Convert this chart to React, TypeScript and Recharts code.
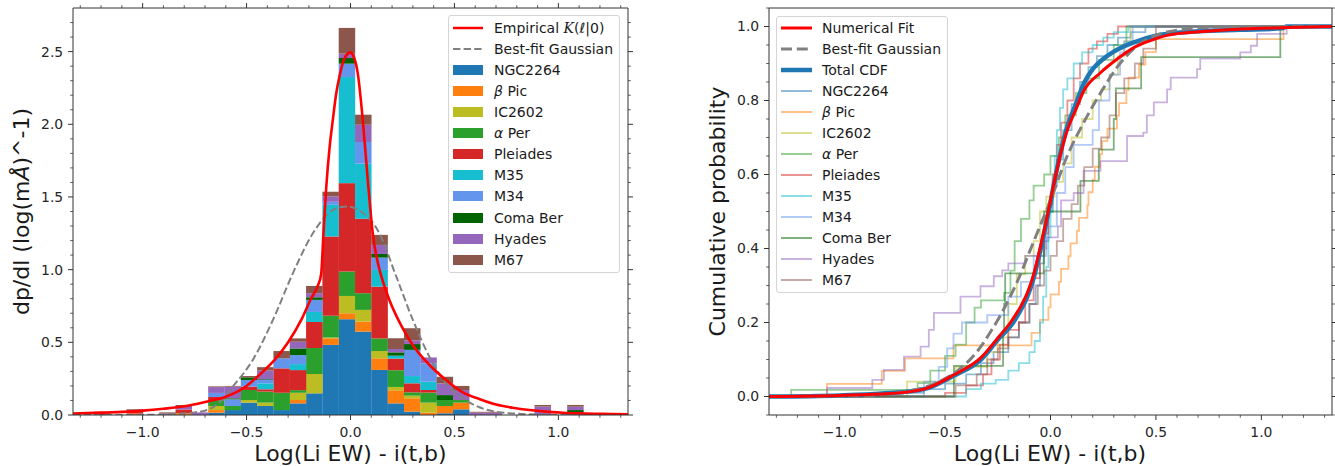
import React from 'react';
import { ComposedChart, Bar, Line, XAxis, YAxis, Legend } from 'recharts';

const FONT = '"DejaVu Sans", "Liberation Sans", sans-serif';
const X_DOMAIN: [number, number] = [-1.335, 1.335];
const AXIS_COLOR = '#333';

// ---- histogram (left panel) ----
// bin centres, bin width ~0.0785
const binCenters = [
  -1.2723, -1.1938, -1.1153, -1.0368, -0.9583, -0.8798, -0.8013, -0.7228, -0.6443, -0.5658, -0.4873,
  -0.4088, -0.3303, -0.2518, -0.1733, -0.0948, -0.0163, 0.0623, 0.1408, 0.2193, 0.2978, 0.3763,
  0.4548, 0.5333, 0.6118, 0.6903, 0.7688, 0.8473, 0.9258, 1.0043, 1.0828,
];

const ngc2264 = [0, 0, 0, 0, 0, 0, 0, 0, 0.016, 0.034, 0.085, 0.062, 0.034, 0.08, 0.149, 0.482, 0.659, 0.574, 0.31, 0.08, 0.023, 0, 0.012, 0.039, 0, 0, 0, 0, 0, 0, 0];
const betaPic = [0, 0, 0, 0.01, 0, 0, 0.012, 0, 0.018, 0, 0, 0, 0, 0.023, 0, 0.046, 0.041, 0.069, 0.08, 0.09, 0.092, 0.016, 0.05, 0.046, 0, 0, 0, 0, 0, 0, 0];
const ic2602 = [0, 0, 0, 0, 0, 0, 0, 0, 0.028, 0, 0.018, 0.023, 0, 0.05, 0.133, 0.005, 0.119, 0.08, 0.05, 0.023, 0.018, 0.069, 0, 0, 0, 0, 0, 0, 0, 0, 0];
const alphaPer = [0, 0, 0, 0, 0, 0, 0, 0, 0.04, 0.028, 0.069, 0.076, 0.119, 0.018, 0.179, 0.15, 0.168, 0.115, 0.087, 0.115, 0.023, 0.069, 0.041, 0.018, 0, 0, 0, 0, 0, 0, 0];
const pleiades = [0, 0.012, 0, 0.015, 0, 0, 0.025, 0, 0.022, 0, 0.023, 0.016, 0.168, 0.138, 0.179, 0.545, 0.608, 0.512, 0.356, 0.08, 0.062, 0.018, 0, 0, 0, 0, 0, 0, 0, 0, 0];
const m35 = [0, 0, 0, 0, 0, 0, 0, 0, 0, 0, 0, 0.041, 0, 0.041, 0.069, 0.218, 0.73, 0.379, 0.115, 0.02, 0.05, 0.057, 0, 0, 0, 0, 0, 0, 0, 0, 0];
const m34 = [0, 0, 0, 0, 0, 0, 0, 0, 0.028, 0.046, 0.046, 0.023, 0.069, 0.062, 0.083, 0.021, 0.092, 0.149, 0.085, 0, 0.18, 0.126, 0, 0, 0, 0, 0, 0, 0, 0, 0.018];
const comaBer = [0, 0, 0, 0, 0, 0, 0, 0, 0, 0.007, 0.018, 0.005, 0, 0.046, 0.018, 0, 0.039, 0, 0.025, 0.023, 0.04, 0, 0.034, 0, 0, 0, 0, 0, 0, 0, 0.016];
const hyades = [0, 0, 0, 0.012, 0, 0.01, 0.025, 0.018, 0.04, 0.08, 0, 0.06, 0, 0.046, 0.028, 0.037, 0.03, 0.119, 0.062, 0.023, 0.025, 0.041, 0.08, 0.069, 0.016, 0.016, 0, 0, 0.058, 0, 0.023];
const m67 = [0, 0.01, 0, 0.004, 0, 0.008, 0.007, 0, 0.005, 0.005, 0.009, 0.023, 0.05, 0.023, 0.05, 0.032, 0.177, 0.069, 0.069, 0.074, 0.084, 0, 0.046, 0.028, 0.006, 0.006, 0, 0, 0.011, 0, 0.012];

const empiricalPdf: [number, number][] = [
  [-1.335, 0.01], [-1.2, 0.016], [-1.0, 0.03], [-0.9, 0.043], [-0.8, 0.06], [-0.7, 0.09], [-0.6, 0.126],
  [-0.5, 0.2], [-0.43, 0.287], [-0.365, 0.379], [-0.3, 0.5], [-0.237, 0.654], [-0.19, 0.8], [-0.157, 0.89],
  [-0.141, 0.97], [-0.13, 1.25], [-0.117, 1.56], [-0.1, 1.85], [-0.085, 2.03], [-0.07, 2.2], [-0.053, 2.33],
  [-0.03, 2.45], [-0.01, 2.49], [0.0, 2.495], [0.011, 2.48], [0.035, 2.35], [0.059, 2.03], [0.083, 1.62],
  [0.107, 1.25], [0.136, 1.02], [0.16, 0.9], [0.1875, 0.79], [0.25, 0.6], [0.3, 0.48], [0.38, 0.344],
  [0.46, 0.24], [0.54, 0.155], [0.62, 0.11], [0.7, 0.072], [0.78, 0.05], [0.86, 0.034], [0.94, 0.023],
  [1.02, 0.016], [1.1, 0.011], [1.2, 0.008], [1.335, 0.005],
];
const gaussPdf: [number, number][] = [
  [-1.335, 0], [-1.0, 0.001], [-0.85, 0.006], [-0.75, 0.018], [-0.69, 0.034], [-0.62, 0.1], [-0.566, 0.195],
  [-0.47, 0.379], [-0.373, 0.654], [-0.277, 0.976], [-0.181, 1.25], [-0.085, 1.41], [-0.02, 1.435],
  [0.05, 1.4], [0.139, 1.25], [0.22, 0.953], [0.3, 0.654], [0.38, 0.4], [0.46, 0.218], [0.54, 0.115],
  [0.62, 0.053], [0.7, 0.022], [0.78, 0.011], [0.9, 0.003], [1.0, 0.001], [1.335, 0],
];

// ---- cumulative distributions (right panel): [position, cdf after the step] ----
const ngc2264Cdf: [number, number][] = [
  [-0.9, 0.005], [-0.7, 0.01], [-0.6, 0.02], [-0.5, 0.035], [-0.4, 0.06], [-0.33, 0.09], [-0.27, 0.12],
  [-0.2, 0.16], [-0.15, 0.2], [-0.1, 0.25], [-0.07, 0.3], [-0.05, 0.36], [-0.03, 0.42], [-0.01, 0.5],
  [0.01, 0.57], [0.03, 0.64], [0.06, 0.72], [0.1, 0.79], [0.14, 0.85], [0.18, 0.89], [0.22, 0.92],
  [0.27, 0.95], [0.32, 0.97], [0.38, 0.985], [0.45, 1.0],
];
const betaPicCdf: [number, number][] = [
  [-1.06, 0.034], [-0.8, 0.069], [-0.69, 0.103], [-0.46, 0.138], [-0.09, 0.172], [-0.05, 0.207],
  [-0.01, 0.241], [0.0, 0.276], [0.04, 0.31], [0.05, 0.345], [0.085, 0.379], [0.095, 0.414],
  [0.125, 0.448], [0.135, 0.483], [0.175, 0.517], [0.18, 0.552], [0.2, 0.586], [0.21, 0.621],
  [0.235, 0.655], [0.245, 0.69], [0.27, 0.724], [0.315, 0.759], [0.325, 0.793], [0.36, 0.828],
  [0.37, 0.862], [0.42, 0.897], [0.45, 0.931], [0.5, 0.966], [1.105, 1.0],
];
const ic2602Cdf: [number, number][] = [
  [-0.68, 0.04], [-0.45, 0.08], [-0.3, 0.12], [-0.25, 0.16], [-0.2, 0.25], [-0.16, 0.33], [-0.12, 0.38],
  [-0.08, 0.42], [-0.05, 0.5], [-0.02, 0.54], [0.02, 0.58], [0.06, 0.63], [0.1, 0.7], [0.15, 0.75],
  [0.2, 0.8], [0.24, 0.83], [0.28, 0.87], [0.32, 0.92], [0.35, 0.96], [0.38, 1.0],
];
const alphaPerCdf: [number, number][] = [
  [-1.23, 0.018], [-0.63, 0.036], [-0.57, 0.07], [-0.5, 0.11], [-0.45, 0.14], [-0.4, 0.2], [-0.36, 0.24],
  [-0.33, 0.26], [-0.22, 0.28], [-0.19, 0.34], [-0.17, 0.42], [-0.14, 0.48], [-0.1, 0.53], [-0.08, 0.57],
  [-0.03, 0.6], [0.0, 0.65], [0.04, 0.7], [0.07, 0.76], [0.12, 0.82], [0.17, 0.86], [0.23, 0.91],
  [0.3, 0.95], [0.36, 1.0],
];
const pleiadesCdf: [number, number][] = [
  [-0.5, 0.01], [-0.4, 0.03], [-0.32, 0.06], [-0.28, 0.1], [-0.24, 0.14], [-0.2, 0.18], [-0.15, 0.2],
  [-0.12, 0.26], [-0.08, 0.32], [-0.05, 0.38], [-0.03, 0.44], [-0.01, 0.52], [0.01, 0.6], [0.03, 0.68],
  [0.05, 0.74], [0.08, 0.8], [0.11, 0.86], [0.14, 0.9], [0.18, 0.94], [0.22, 0.96], [0.27, 0.98], [0.32, 1.0],
];
const m35Cdf: [number, number][] = [
  [-0.4, 0.02], [-0.33, 0.035], [-0.26, 0.045], [-0.2, 0.07], [-0.15, 0.09], [-0.1, 0.12], [-0.075, 0.15],
  [-0.05, 0.2], [-0.035, 0.27], [-0.02, 0.35], [-0.01, 0.43], [0.0, 0.5], [0.01, 0.58], [0.02, 0.65],
  [0.03, 0.72], [0.045, 0.78], [0.06, 0.83], [0.08, 0.86], [0.11, 0.9], [0.15, 0.93], [0.2, 0.95],
  [0.25, 0.97], [0.3, 0.985], [0.37, 1.0],
];
const m34Cdf: [number, number][] = [
  [-0.6, 0.04], [-0.53, 0.08], [-0.49, 0.13], [-0.46, 0.17], [-0.42, 0.2], [-0.3, 0.22], [-0.2, 0.27],
  [-0.14, 0.31], [-0.08, 0.38], [-0.02, 0.46], [0.03, 0.55], [0.07, 0.62], [0.11, 0.68], [0.2, 0.72],
  [0.23, 0.8], [0.28, 0.87], [0.33, 0.93], [0.35, 0.96], [0.39, 1.0],
];
const comaBerCdf: [number, number][] = [
  [-0.458, 0.083], [-0.225, 0.167], [-0.22, 0.25], [-0.215, 0.333], [-0.032, 0.417], [-0.03, 0.5],
  [0.142, 0.583], [0.229, 0.667], [0.3, 0.75], [0.31, 0.833], [0.43, 0.917], [1.09, 1.0],
];
const hyadesCdf: [number, number][] = [
  [-1.06, 0.023], [-0.845, 0.045], [-0.79, 0.072], [-0.695, 0.108], [-0.616, 0.135], [-0.577, 0.18],
  [-0.553, 0.226], [-0.427, 0.27], [-0.332, 0.298], [-0.269, 0.325], [-0.229, 0.341], [-0.2, 0.36],
  [-0.12, 0.38], [-0.05, 0.4], [-0.02, 0.43], [0.035, 0.46], [0.05, 0.53], [0.11, 0.55], [0.157, 0.61],
  [0.237, 0.636], [0.363, 0.704], [0.44, 0.713], [0.457, 0.76], [0.49, 0.795], [0.553, 0.83],
  [0.57, 0.862], [0.695, 0.885], [0.71, 0.913], [0.9, 0.93], [0.95, 0.948], [0.98, 0.98], [1.12, 1.0],
];
const m67Cdf: [number, number][] = [
  [-0.45, 0.03], [-0.35, 0.06], [-0.3, 0.1], [-0.25, 0.13], [-0.2, 0.16], [-0.15, 0.2], [-0.1, 0.25],
  [-0.06, 0.3], [-0.03, 0.34], [0.0, 0.38], [0.03, 0.42], [0.06, 0.48], [0.1, 0.52], [0.13, 0.57],
  [0.16, 0.62], [0.2, 0.67], [0.24, 0.7], [0.28, 0.76], [0.31, 0.82], [0.35, 0.86], [0.4, 0.9],
  [0.44, 0.94], [0.5, 1.0],
];

const totalCdf: [number, number][] = [
  [-1.335, 0], [-1.0, 0.003], [-0.8, 0.008], [-0.6, 0.02], [-0.46, 0.056], [-0.33, 0.1], [-0.24, 0.16],
  [-0.19, 0.19], [-0.14, 0.235], [-0.11, 0.27], [-0.08, 0.32], [-0.05, 0.39], [-0.02, 0.47], [0.0, 0.525],
  [0.02, 0.585], [0.05, 0.665], [0.08, 0.73], [0.12, 0.79], [0.157, 0.845], [0.2, 0.885], [0.25, 0.912],
  [0.3, 0.932], [0.4, 0.958], [0.5, 0.975], [0.7, 0.987], [0.9, 0.991], [1.1, 0.995], [1.12, 1.0], [1.335, 1.0],
];
const fitCdf: [number, number][] = [
  [-1.335, 0], [-1.0, 0.003], [-0.76, 0.008], [-0.6, 0.02], [-0.46, 0.058], [-0.33, 0.105], [-0.24, 0.165],
  [-0.19, 0.2], [-0.14, 0.245], [-0.11, 0.28], [-0.08, 0.33], [-0.05, 0.4], [-0.02, 0.475], [0.0, 0.53],
  [0.02, 0.585], [0.05, 0.66], [0.08, 0.72], [0.12, 0.775], [0.157, 0.825], [0.237, 0.875], [0.316, 0.912],
  [0.395, 0.943], [0.474, 0.962], [0.553, 0.976], [0.71, 0.986], [0.87, 0.992], [1.12, 0.997], [1.335, 1.0],
];
const gaussCdf: [number, number][] = [
  [-1.335, 0], [-0.9, 0.002], [-0.7, 0.012], [-0.55, 0.035], [-0.44, 0.07], [-0.35, 0.12], [-0.284, 0.175],
  [-0.237, 0.22], [-0.158, 0.31], [-0.079, 0.42], [0.0, 0.53], [0.079, 0.65], [0.157, 0.74], [0.237, 0.82],
  [0.316, 0.89], [0.395, 0.94], [0.474, 0.97], [0.553, 0.985], [0.71, 0.996], [0.9, 1.0], [1.335, 1.0],
];

// ---- ticks ----
const xTicks = [-1.3, -1.2, -1.1, -1.0, -0.9, -0.8, -0.7, -0.6, -0.5, -0.4, -0.3, -0.2, -0.1, 0, 0.1, 0.2, 0.3, 0.4, 0.5, 0.6, 0.7, 0.8, 0.9, 1.0, 1.1, 1.2, 1.3];
const xMajor = [-1.0, -0.5, 0, 0.5, 1.0];
const densTicks = [0, 0.1, 0.2, 0.3, 0.4, 0.5, 0.6, 0.7, 0.8, 0.9, 1.0, 1.1, 1.2, 1.3, 1.4, 1.5, 1.6, 1.7, 1.8, 1.9, 2.0, 2.1, 2.2, 2.3, 2.4, 2.5, 2.6, 2.7];
const densMajor = [0, 0.5, 1.0, 1.5, 2.0, 2.5];
const cdfTicks = [-0.05, 0, 0.05, 0.1, 0.15, 0.2, 0.25, 0.3, 0.35, 0.4, 0.45, 0.5, 0.55, 0.6, 0.65, 0.7, 0.75, 0.8, 0.85, 0.9, 0.95, 1.0, 1.05];
const cdfMajor = [0, 0.2, 0.4, 0.6, 0.8, 1.0];

const clusters = [
  { key: 'ngc2264', label: <>NGC2264</>, color: '#1f77b4', hist: ngc2264, cdf: ngc2264Cdf },
  { key: 'betaPic', label: <><i>β</i> Pic</>, color: '#ff7f0e', hist: betaPic, cdf: betaPicCdf },
  { key: 'ic2602', label: <>IC2602</>, color: '#bcbd22', hist: ic2602, cdf: ic2602Cdf },
  { key: 'alphaPer', label: <><i>α</i> Per</>, color: '#2ca02c', hist: alphaPer, cdf: alphaPerCdf },
  { key: 'pleiades', label: <>Pleiades</>, color: '#d62728', hist: pleiades, cdf: pleiadesCdf },
  { key: 'm35', label: <>M35</>, color: '#17becf', hist: m35, cdf: m35Cdf },
  { key: 'm34', label: <>M34</>, color: '#6495ed', hist: m34, cdf: m34Cdf },
  { key: 'comaBer', label: <>Coma Ber</>, color: '#006400', hist: comaBer, cdf: comaBerCdf },
  { key: 'hyades', label: <>Hyades</>, color: '#9467bd', hist: hyades, cdf: hyadesCdf },
  { key: 'm67', label: <>M67</>, color: '#8c564b', hist: m67, cdf: m67Cdf },
];

const histRows = binCenters.map((c, i) => {
  const row: Record<string, number> = { c };
  clusters.forEach((cl) => { row[cl.key] = cl.hist[i]; });
  return row;
});

const toRows = (pts: [number, number][]) => pts.map(([x, y]) => ({ x, y }));
const toSteps = (pts: [number, number][]) => [
  { x: X_DOMAIN[0], y: 0 },
  ...toRows(pts),
  { x: X_DOMAIN[1], y: 1 },
];

const fmt = (v: number) => v.toFixed(1).replace('-', '\u2212');

type Side = 'bottom' | 'top' | 'left' | 'right';

// matplotlib-style outward ticks, long for majors and short for minors
const tickFor = (side: Side, majors: number[], labelled: boolean) => (props: any) => {
  const { x, y, payload } = props;
  const v = payload.value as number;
  const major = majors.some((m) => Math.abs(m - v) < 1e-9);
  const len = major ? 5 : 2.8;
  let x2 = x;
  let y2 = y;
  if (side === 'bottom') y2 = y + len;
  if (side === 'top') y2 = y - len;
  if (side === 'left') x2 = x - len;
  if (side === 'right') x2 = x + len;
  let label = null;
  if (labelled && major) {
    label = side === 'bottom'
      ? <text x={x} y={y + 21.7} textAnchor="middle" fontSize={13.9} fontFamily={FONT} fill="#262626">{fmt(v)}</text>
      : <text x={x - 9.8} y={y + 4.9} textAnchor="end" fontSize={13.9} fontFamily={FONT} fill="#262626">{fmt(v)}</text>;
  }
  return (
    <g>
      <line x1={x} y1={y} x2={x2} y2={y2} stroke={AXIS_COLOR} strokeWidth={major ? 1 : 0.8} />
      {label}
    </g>
  );
};

const BinRect = (props: any) => {
  const { x, y, width, height, fill } = props;
  if (!height || height <= 0) return null;
  return <rect x={x - 0.25} y={y} width={width + 0.5} height={height} fill={fill} />;
};

type LegendRow = {
  kind: 'line' | 'dash' | 'patch';
  color: string;
  width?: number;
  dash?: string;
  opacity?: number;
  label: React.ReactNode;
};

function LegendBox(p: {
  rows: LegendRow[]; width: number; height: number; rowH: number; padTop: number; swatchW: number; gap: number;
}) {
  return (
    <div
      style={{
        width: p.width, height: p.height, boxSizing: 'border-box', border: '1px solid #d5d5d5', borderRadius: 3,
        background: 'rgba(255,255,255,0.8)', paddingTop: p.padTop, paddingLeft: 4, fontFamily: FONT,
        fontSize: 14, color: '#1a1a1a', textAlign: 'left',
      }}
    >
      {p.rows.map((r, i) => (
        <div key={i} style={{ height: p.rowH, display: 'flex', alignItems: 'center' }}>
          <svg width={p.swatchW} height={14} style={{ marginRight: p.gap, flex: 'none', display: 'block' }}>
            {r.kind === 'patch' ? (
              <rect x={0} y={2} width={p.swatchW} height={10} fill={r.color} />
            ) : (
              <line x1={0} x2={p.swatchW} y1={7} y2={7} stroke={r.color} strokeWidth={r.width}
                strokeOpacity={r.opacity ?? 1} strokeDasharray={r.kind === 'dash' ? r.dash : undefined} />
            )}
          </svg>
          <span style={{ whiteSpace: 'nowrap', lineHeight: 1 }}>{r.label}</span>
        </div>
      ))}
    </div>
  );
}

const histLegend: LegendRow[] = [
  { kind: 'line', color: '#ff0000', width: 2.5, label: <>Empirical <i style={{ fontFamily: '"DejaVu Serif", serif' }}>K</i>(<i>ℓ</i>|0)</> },
  { kind: 'dash', color: '#808080', width: 2, dash: '7.4 3.2', label: 'Best-fit Gaussian' },
  ...clusters.map((c) => ({ kind: 'patch' as const, color: c.color, label: c.label })),
];

const cdfLegend: LegendRow[] = [
  { kind: 'line', color: '#ff0000', width: 3, label: 'Numerical Fit' },
  { kind: 'dash', color: '#808080', width: 3, dash: '11 4.8', label: 'Best-fit Gaussian' },
  { kind: 'line', color: '#1f77b4', width: 4.5, label: 'Total CDF' },
  ...clusters.map((c) => ({ kind: 'line' as const, color: c.color, width: 2, opacity: 0.5, label: c.label })),
];

const axisLine = { stroke: AXIS_COLOR, strokeWidth: 1 };

const xLabel = (cx: number) => () => (
  <text x={cx} y={461} textAnchor="middle" fontSize={22} fontFamily={FONT} fill="#1a1a1a">Log(Li EW) - i(t,b)</text>
);

function DensityPanel() {
  return (
    <ComposedChart width={680} height={466} data={histRows} barCategoryGap={0} barGap={0}
      margin={{ top: 7, right: 51, bottom: 0, left: 23 }}>
      <XAxis xAxisId="x" dataKey="x" type="number" domain={X_DOMAIN} allowDataOverflow ticks={xTicks} interval={0}
        height={51} tickSize={0} tickMargin={0} tickLine={false} axisLine={axisLine}
        tick={tickFor('bottom', xMajor, true)} label={{ content: xLabel(350.5) }} />
      <XAxis xAxisId="top" dataKey="c" orientation="top" type="number" domain={X_DOMAIN} allowDataOverflow
        ticks={xTicks} interval={0} height={1} tickSize={0} tickMargin={0} tickLine={false} axisLine={axisLine}
        tick={tickFor('top', xMajor, false)} />
      <XAxis xAxisId="bins" dataKey="c" type="number" domain={X_DOMAIN} allowDataOverflow height={0} hide />
      <YAxis yAxisId="d" type="number" domain={[0, 2.8]} allowDataOverflow ticks={densTicks} interval={0} width={50}
        tickSize={0} tickMargin={0} tickLine={false} axisLine={axisLine} tick={tickFor('left', densMajor, true)}
        label={{
          content: () => (
            <text x={28.5} y={211.5} transform="rotate(-90 28.5 211.5)" textAnchor="middle" fontSize={22}
              fontFamily={FONT} fill="#1a1a1a">
              dp/dl (log(m<tspan fontStyle="italic">Å</tspan>)^-1)
            </text>
          ),
        }} />
      <YAxis yAxisId="dr" orientation="right" type="number" domain={[0, 2.8]} allowDataOverflow ticks={densTicks}
        interval={0} width={1} tickSize={0} tickMargin={0} tickLine={false} axisLine={axisLine}
        tick={tickFor('right', densMajor, false)} />
      {clusters.map((c) => (
        <Bar key={c.key} dataKey={c.key} stackId="h" xAxisId="bins" yAxisId="d" fill={c.color}
          isAnimationActive={false} shape={BinRect} />
      ))}
      <Line data={toRows(gaussPdf)} dataKey="y" xAxisId="x" yAxisId="d" type="monotone" stroke="#808080"
        strokeWidth={2} strokeDasharray="7.4 3.2" dot={false} activeDot={false} isAnimationActive={false} />
      <Line data={toRows(empiricalPdf)} dataKey="y" xAxisId="x" yAxisId="d" type="monotone" stroke="#ff0000"
        strokeWidth={2.6} dot={false} activeDot={false} isAnimationActive={false} />
      <Legend layout="vertical" align="center" verticalAlign="middle"
        wrapperStyle={{ left: 448, top: 15, width: 172 }}
        content={() => <LegendBox rows={histLegend} width={172} height={258} rowH={21.1} padTop={1.2} swatchW={30} gap={11} />} />
    </ComposedChart>
  );
}

function CdfPanel() {
  return (
    <ComposedChart width={655} height={466} margin={{ top: 7, right: 2, bottom: 0, left: 39 }}>
      <XAxis xAxisId="x" dataKey="x" type="number" domain={X_DOMAIN} allowDataOverflow ticks={xTicks} interval={0}
        height={51} tickSize={0} tickMargin={0} tickLine={false} axisLine={axisLine}
        tick={tickFor('bottom', xMajor, true)} label={{ content: xLabel(370) }} />
      <XAxis xAxisId="top" orientation="top" type="number" domain={X_DOMAIN} allowDataOverflow ticks={xTicks}
        interval={0} height={1} tickSize={0} tickMargin={0} tickLine={false} axisLine={axisLine}
        tick={tickFor('top', xMajor, false)} />
      <YAxis yAxisId="p" type="number" domain={[-0.05, 1.05]} allowDataOverflow ticks={cdfTicks} interval={0}
        width={50} tickSize={0} tickMargin={0} tickLine={false} axisLine={axisLine}
        tick={tickFor('left', cdfMajor, true)}
        label={{
          content: () => (
            <text x={44.5} y={211.5} transform="rotate(-90 44.5 211.5)" textAnchor="middle" fontSize={22}
              fontFamily={FONT} fill="#1a1a1a">Cumulative probability</text>
          ),
        }} />
      <YAxis yAxisId="pr" orientation="right" type="number" domain={[-0.05, 1.05]} allowDataOverflow
        ticks={cdfTicks} interval={0} width={1} tickSize={0} tickMargin={0} tickLine={false} axisLine={axisLine}
        tick={tickFor('right', cdfMajor, false)} />
      {clusters.map((c) => (
        <Line key={c.key} data={toSteps(c.cdf)} dataKey="y" xAxisId="x" yAxisId="p" type="stepAfter"
          stroke={c.color} strokeOpacity={0.5} strokeWidth={1.8} dot={false} activeDot={false}
          isAnimationActive={false} />
      ))}
      <Line data={toRows(totalCdf)} dataKey="y" xAxisId="x" yAxisId="p" type="monotone" stroke="#1f77b4"
        strokeWidth={4.5} dot={false} activeDot={false} isAnimationActive={false} />
      <Line data={toRows(gaussCdf)} dataKey="y" xAxisId="x" yAxisId="p" type="monotone" stroke="#808080"
        strokeWidth={3} strokeDasharray="11 4.8" dot={false} activeDot={false} isAnimationActive={false} />
      <Line data={toRows(fitCdf)} dataKey="y" xAxisId="x" yAxisId="p" type="monotone" stroke="#ff0000"
        strokeWidth={3} dot={false} activeDot={false} isAnimationActive={false} />
      <Legend layout="vertical" align="center" verticalAlign="middle"
        wrapperStyle={{ left: 96, top: 16, width: 172 }}
        content={() => <LegendBox rows={cdfLegend} width={172} height={277} rowH={21} padTop={0.3} swatchW={31} gap={10} />} />
    </ComposedChart>
  );
}

export default function App() {
  return (
    <div style={{ position: 'absolute', left: 0, top: 0, width: 1335, height: 466, background: '#fff', overflow: 'hidden' }}>
      <div style={{ position: 'absolute', left: 0, top: 0 }}>
        <DensityPanel />
      </div>
      <div style={{ position: 'absolute', left: 680, top: 0 }}>
        <CdfPanel />
      </div>
    </div>
  );
}
